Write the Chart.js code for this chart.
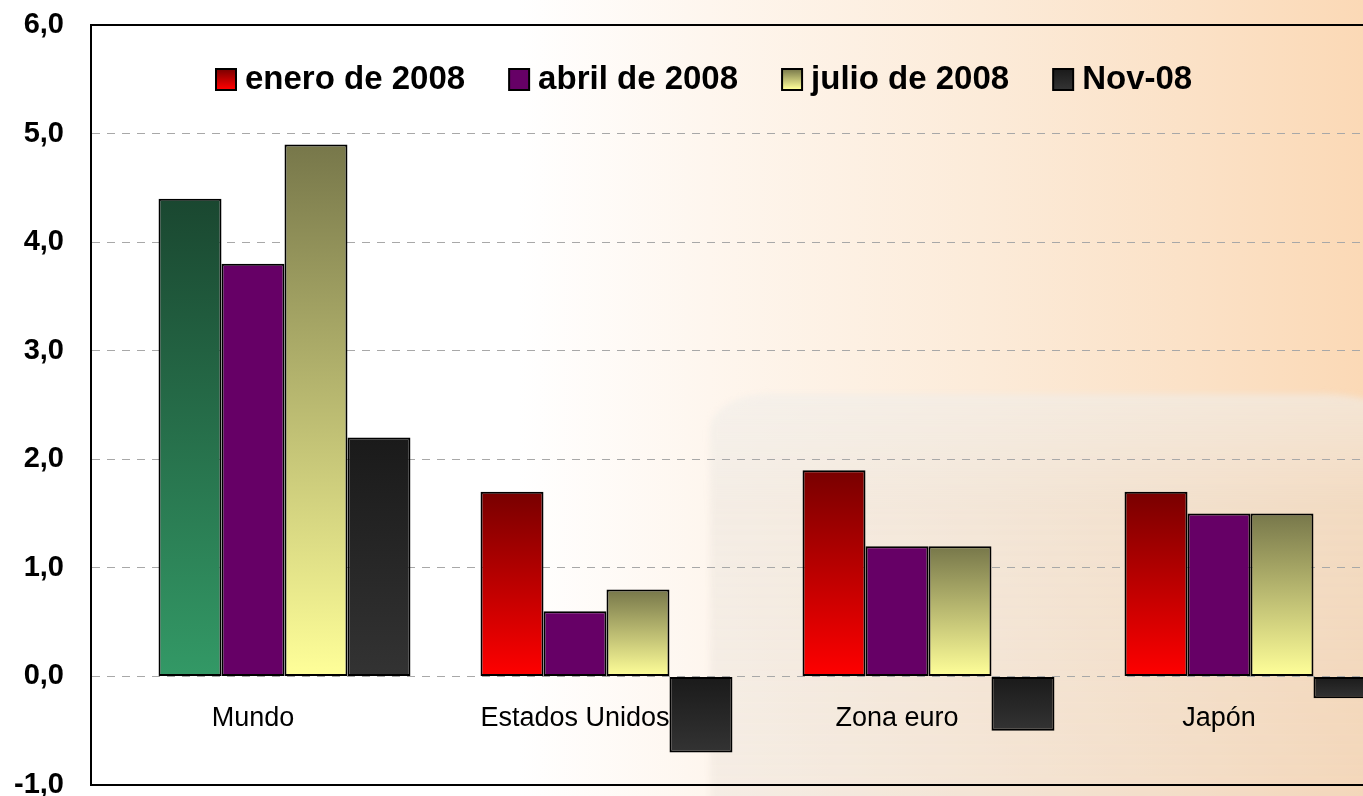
<!DOCTYPE html>
<html>
<head>
<meta charset="utf-8">
<script src="https://cdn.jsdelivr.net/npm/chart.js@4.4.1/dist/chart.umd.min.js"></script>
<style>
  html, body { margin: 0; padding: 0; width: 1363px; height: 796px; overflow: hidden; }
  body {
    position: relative;
    background: linear-gradient(to right, #ffffff 0%, #ffffff 38%, #fef6ee 52%, #fcebd9 72%, #fbe1c6 88%, #fbd9b6 100%);
  }
  #ghost {
    position: absolute; left: 710px; top: 394px; width: 700px; height: 460px;
    border-radius: 60px 90px 0 0 / 36px 36px 0 0;
    background: linear-gradient(to bottom, rgba(240,238,234,0.6) 0%, rgba(228,222,214,0.35) 25%, rgba(218,208,198,0.22) 100%);
    filter: blur(3px);
  }
  #wrap { position: absolute; left: 0; top: 0; }
</style>
</head>
<body>
<div id="ghost"></div>
<div id="wrap"><canvas id="chart" width="1392" height="806"></canvas></div>
<script>
'use strict';

var categories = ['Mundo', 'Estados Unidos', 'Zona euro', 'Japón'];
var seriesLabels = ['enero de 2008', 'abril de 2008', 'julio de 2008', 'Nov-08'];

var enero = [4.4, 1.7, 1.9, 1.7];
var abril = [3.8, 0.6, 1.2, 1.5];
var julio = [4.9, 0.8, 1.2, 1.5];
var nov08 = [2.2, -0.7, -0.5, -0.2];

var yMin = -1;
var yMax = 6;
var yStep = 1;

// gradient stops, top -> bottom
var eneroColors = ['#780000', '#ff0000'];
var mundoEneroColors = ['#1a4730', '#339966'];
var abrilColors = ['#660066', '#660066'];
var julioColors = ['#77774a', '#ffff99'];
var novColors = ['#1a1a1a', '#333333'];

function barFill(colors, special) {
  return function (context) {
    var chart = context.chart;
    var stops = colors;
    if (special && context.dataIndex === 0) stops = special;
    if (!chart.chartArea) return stops[1];
    var v = context.raw;
    if (v === null || v === undefined) return stops[1];
    var y = chart.scales.y;
    var top = y.getPixelForValue(Math.max(v, 0));
    var bottom = y.getPixelForValue(Math.min(v, 0));
    if (bottom - top < 1) bottom = top + 1;
    var g = chart.ctx.createLinearGradient(0, top, 0, bottom);
    g.addColorStop(0, stops[0]);
    g.addColorStop(1, stops[1]);
    return g;
  };
}

function fmt(v) {
  return v.toFixed(1).replace('.', ',');
}

var frame = {
  id: 'frame',
  afterDraw: function (chart) {
    var a = chart.chartArea;
    var ctx = chart.ctx;
    ctx.save();
    ctx.strokeStyle = '#000';
    ctx.lineWidth = 2;
    ctx.strokeRect(a.left - 1, a.top, a.right - a.left + 1, a.bottom - a.top);
    ctx.restore();
  }
};

var legendBox = {
  id: 'legendBox',
  afterDraw: function (chart) {
    var ctx = chart.ctx;
    var a = chart.chartArea;
    var items = [
      { text: seriesLabels[0], colors: eneroColors },
      { text: seriesLabels[1], colors: abrilColors },
      { text: seriesLabels[2], colors: julioColors },
      { text: seriesLabels[3], colors: novColors }
    ];
    ctx.save();
    ctx.font = 'bold 33px "Liberation Sans", Arial, sans-serif';
    ctx.textBaseline = 'middle';
    ctx.fillStyle = '#000';
    var x = a.left + 124;
    var yMid = 79;
    var box = 20;
    items.forEach(function (it) {
      var g = ctx.createLinearGradient(0, yMid - box / 2, 0, yMid + box / 2);
      g.addColorStop(0, it.colors[0]);
      g.addColorStop(1, it.colors[1]);
      ctx.fillStyle = g;
      ctx.fillRect(x, yMid - box / 2, box, box + 1);
      ctx.strokeStyle = '#000';
      ctx.lineWidth = 2;
      ctx.strokeRect(x, yMid - box / 2, box, box + 1);
      ctx.fillStyle = '#000';
      ctx.fillText(it.text, x + box + 9, yMid + 1);
      x += box + 9 + ctx.measureText(it.text).width + 44;
    });
    ctx.restore();
  }
};

function makeChart() {
  var ctx = document.getElementById('chart').getContext('2d');

  var chart = new Chart(ctx, {
    type: 'bar',
    data: {
      labels: categories,
      datasets: [
        // empty first slot, keeps the bars shifted like the original
        { label: '', data: [null, null, null, null], backgroundColor: 'transparent' },
        { label: seriesLabels[0], data: enero, backgroundColor: barFill(eneroColors, mundoEneroColors) },
        { label: seriesLabels[1], data: abril, backgroundColor: barFill(abrilColors) },
        { label: seriesLabels[2], data: julio, backgroundColor: barFill(julioColors) },
        { label: seriesLabels[3], data: nov08, backgroundColor: barFill(novColors) }
      ]
    },
    options: {
      responsive: false,
      animation: false,
      layout: { padding: { top: 25, bottom: 21, left: 0, right: 12 } },
      datasets: {
        bar: {
          borderColor: '#000',
          borderWidth: 2,
          borderSkipped: false,
          barPercentage: 1,
          categoryPercentage: 0.978
        }
      },
      plugins: {
        legend: { display: false },
        tooltip: { enabled: false }
      },
      scales: {
        x: {
          position: { y: 0 },
          grid: { display: false },
          border: { display: false },
          ticks: {
            color: '#000',
            padding: 18,
            maxRotation: 0,
            autoSkip: false,
            font: { family: '"Liberation Sans", Arial, sans-serif', size: 27 }
          },
          afterFit: function (scale) { scale.height = 0; }
        },
        y: {
          min: yMin,
          max: yMax,
          grid: { color: '#a8a8a8', lineWidth: 1, drawTicks: true, tickLength: 25, tickColor: 'rgba(0,0,0,0)' },
          border: { display: false, dash: [8, 7] },
          ticks: {
            stepSize: yStep,
            color: '#000',
            padding: 3,
            font: { family: '"Liberation Sans", Arial, sans-serif', size: 29, weight: 'bold' },
            callback: function (v) { return fmt(v); }
          },
          afterFit: function (scale) { scale.width = 92; }
        }
      }
    },
    plugins: [frame, legendBox]
  });
  return chart;
}

makeChart();
</script>
</body>
</html>
